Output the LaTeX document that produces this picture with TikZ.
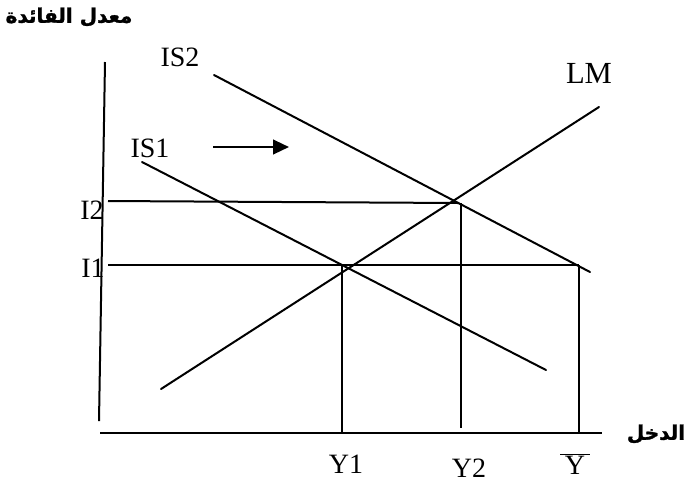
\documentclass[tikz,border=0pt]{standalone}
\usepackage{fontspec}
\setmainfont{Liberation Serif}
\newfontfamily\arabicbold[Script=Arabic,FakeBold=1.5]{DejaVu Sans Bold}
\TeXXeTstate=1
\usetikzlibrary{arrows.meta}
\begin{document}
\begin{tikzpicture}[x=0.75pt,y=-0.75pt,
  curve/.style={line width=1.5pt, line cap=round},
  axis/.style={line width=1.5pt},
  guide/.style={line width=1.5pt},
  lbl/.style={font=\fontsize{21}{24}\selectfont, inner sep=0pt},
  arlbl/.style={font=\arabicbold\fontsize{15}{18}\selectfont, inner sep=0pt}]
\useasboundingbox (0,0) rectangle (684,487);
% axes
\coordinate (ytop) at (105,62);
\coordinate (ybot) at (99,421);
\coordinate (xl) at (100,433);
\coordinate (xr) at (602,433);
\draw[axis] (ytop) -- (ybot);
\draw[axis] (xl) -- (xr);
% curves
\coordinate (lm1) at (161,389);
\coordinate (lm2) at (599,107);
\coordinate (is1a) at (142,162);
\coordinate (is1b) at (546,370);
\coordinate (is2a) at (214,75);
\coordinate (is2b) at (590,272);
\draw[curve] (lm1) -- (lm2);
\draw[curve] (is1a) -- (is1b);
\draw[curve] (is2a) -- (is2b);
% guides
\coordinate (i2l) at (108,201);
\coordinate (e2) at (459,203);
\coordinate (i1l) at (108,265);
\coordinate (e1) at (342,265);
\coordinate (eb) at (579,265);
\coordinate (y1) at (342,433);
\coordinate (y2) at (461,428);
\coordinate (yb) at (579,433);
\draw[guide] (i2l) -- (e2);
\draw[guide] (i1l) -- (eb);
\draw[guide] (e1) -- (y1);
\draw[guide] (e2 -| y2) -- (y2);
\draw[guide] (eb) -- (yb);
% shift arrow
\coordinate (a1) at (213,147);
\coordinate (a2) at (289,147);
\draw[line width=1.7pt, -{Triangle[length=12pt,width=11pt]}] (a1) -- (a2);
% labels
\node[lbl] (lIS2) at (180,57) {IS2};
\node[lbl, font=\fontsize{23}{26}\selectfont] (lLM) at (589,73) {LM};
\node[lbl] (lIS1) at (150,148) {IS1};
\node[lbl] (lI2) at (92,210) {I2};
\node[lbl] (lI1) at (93,268) {I1};
\node[lbl] (lY1) at (346,464) {Y1};
\node[lbl] (lY2) at (469,468) {Y2};
\node[lbl, anchor=base] (lYb) at (575,474) {$\overline{\hbox{\fontsize{21}{24}\selectfont\,Y\,}}$};
\node[arlbl] (ltitle) at (69,17) {\beginR معدل الفائدة\endR};
\node[arlbl] (lx) at (656,434) {\beginR الدخل\endR};
\end{tikzpicture}
\end{document}
